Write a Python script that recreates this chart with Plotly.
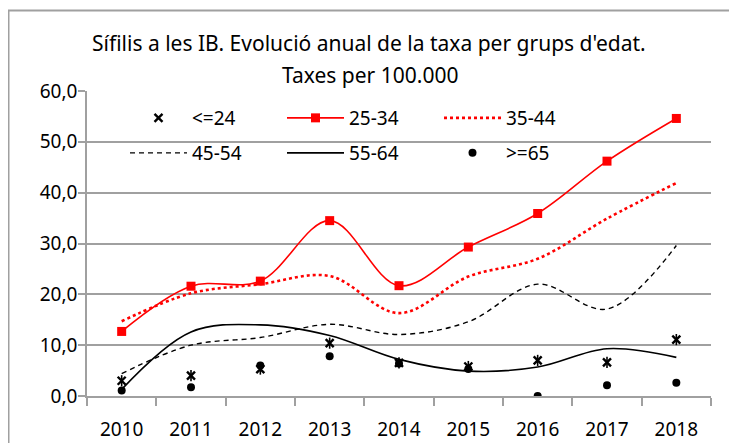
import plotly.graph_objects as go

years = ["2010", "2011", "2012", "2013", "2014", "2015", "2016", "2017", "2018"]
g_le24 = [3.0, 4.0, 5.3, 10.4, 6.5, 5.8, 7.0, 6.6, 11.1]
g_25_34 = [12.7, 21.6, 22.6, 34.5, 21.7, 29.3, 35.9, 46.2, 54.6]
g_35_44 = [14.7, 20.2, 22.0, 23.6, 16.3, 23.5, 27.0, 34.9, 41.9]
g_45_54 = [4.4, 10.0, 11.5, 14.1, 12.1, 14.6, 22.0, 17.1, 29.6]
g_55_64 = [1.3, 12.6, 14.0, 11.9, 7.2, 4.9, 5.7, 9.3, 7.6]
g_ge65 = [1.1, 1.7, 6.0, 7.8, 6.4, 5.3, 0.0, 2.1, 2.6]
y_ticks = [0, 10, 20, 30, 40, 50, 60]
title_l1 = "Sífilis a les IB. Evolució anual de la taxa per grups d'edat."
title_l2 = "Taxes per 100.000"

FONT = "Noto Sans"
OFF = 8  # page body margin offset
W, H = 737 - OFF, 443 - OFF
# plot area in reference (window) pixels: x 87..711, y 91..396
ML, MR, MT, MB = 87 - OFF, W - (711 - OFF), 91 - OFF, H - (396 - OFF)
PW = W - ML - MR
PH = H - MT - MB


def px_x(p):
    return (p - OFF - ML) / PW


def px_y(p):
    return (H - MB - (p - OFF)) / PH


fig = go.Figure()
fig.add_trace(go.Scatter(x=years, y=g_le24, name="<=24", mode="markers",
                         marker=dict(symbol="x-thin-open", size=8, color="black",
                                     line=dict(width=2.4, color="black")),
                         legend="legend", legendgroup="le24"))
fig.add_trace(go.Scatter(x=years, y=g_le24, name="<=24", mode="markers",
                         marker=dict(symbol="line-ns-open", size=8, color="black",
                                     line=dict(width=1.6, color="black")),
                         legend="legend", legendgroup="le24", showlegend=False))
fig.add_trace(go.Scatter(x=years, y=g_25_34, name="25-34", mode="lines+markers",
                         line=dict(color="#ff0000", width=1.6, shape="spline", smoothing=1),
                         marker=dict(symbol="square", size=9, color="#ff0000"),
                         legend="legend"))
fig.add_trace(go.Scatter(x=years, y=g_35_44, name="35-44", mode="lines",
                         line=dict(color="#ff0000", width=2.6, dash="dot", shape="spline", smoothing=1),
                         legend="legend"))
fig.add_trace(go.Scatter(x=years, y=g_45_54, name="45-54", mode="lines",
                         line=dict(color="black", width=1.4, dash="5px,4px", shape="spline", smoothing=1),
                         legend="legend2"))
fig.add_trace(go.Scatter(x=years, y=g_55_64, name="55-64", mode="lines",
                         line=dict(color="black", width=1.6, shape="spline", smoothing=1),
                         legend="legend2"))
fig.add_trace(go.Scatter(x=years, y=g_ge65, name=">=65", mode="markers",
                         marker=dict(symbol="circle", size=8, color="black"),
                         legend="legend2"))

leg_common = dict(orientation="h", xanchor="left", yanchor="middle",
                  bgcolor="rgba(0,0,0,0)", borderwidth=0,
                  font=dict(family=FONT, size=19, color="black"),
                  itemwidth=57, entrywidth=85, entrywidthmode="pixels",
                  itemclick=False, itemdoubleclick=False)

frame_color = "#a0a0a0"
shapes = [
    dict(type="rect", xref="paper", yref="paper",
         x0=px_x(8.5), x1=px_x(731.5), y0=px_y(470), y1=px_y(10.5),
         line=dict(color=frame_color, width=2), layer="below"),
]

annotations = [
    dict(text=title_l1, xref="paper", yref="paper", x=px_x(369), y=px_y(43),
         xanchor="center", yanchor="middle", showarrow=False,
         font=dict(family=FONT, size=21, color="black")),
    dict(text=title_l2, xref="paper", yref="paper", x=px_x(370), y=px_y(75),
         xanchor="center", yanchor="middle", showarrow=False,
         font=dict(family=FONT, size=21, color="black")),
]

fig.update_layout(
    width=W, height=H,
    margin=dict(l=ML, r=MR, t=MT, b=MB, autoexpand=False),
    paper_bgcolor="white", plot_bgcolor="white",
    separators=",.",
    font=dict(family=FONT, size=19, color="black"),
    showlegend=True,
    legend=dict(x=px_x(125), y=px_y(118), **leg_common),
    legend2=dict(x=px_x(125), y=px_y(153), **leg_common),
    shapes=shapes,
    annotations=annotations,
    xaxis=dict(type="category", tickson="boundaries", ticks="outside", ticklen=8,
               tickcolor="#a0a0a0", tickwidth=1.5, showline=True, linecolor="#a0a0a0",
               linewidth=1.5, showgrid=False, tickfont=dict(family=FONT, size=19),
               ticklabelstandoff=15, automargin=False, range=[-0.5, 8.5], fixedrange=True),
    yaxis=dict(range=[0, 60], tickvals=y_ticks, tickformat=".1f", ticks="outside",
               ticklen=7, tickcolor="#a0a0a0", tickwidth=1.5, showline=True,
               linecolor="#a0a0a0", linewidth=1.5, showgrid=True, gridcolor="#a0a0a0",
               gridwidth=1.5, zeroline=False, tickfont=dict(family=FONT, size=19),
               ticklabelstandoff=-3, automargin=False, fixedrange=True),
)

fig.write_html("out.html")
